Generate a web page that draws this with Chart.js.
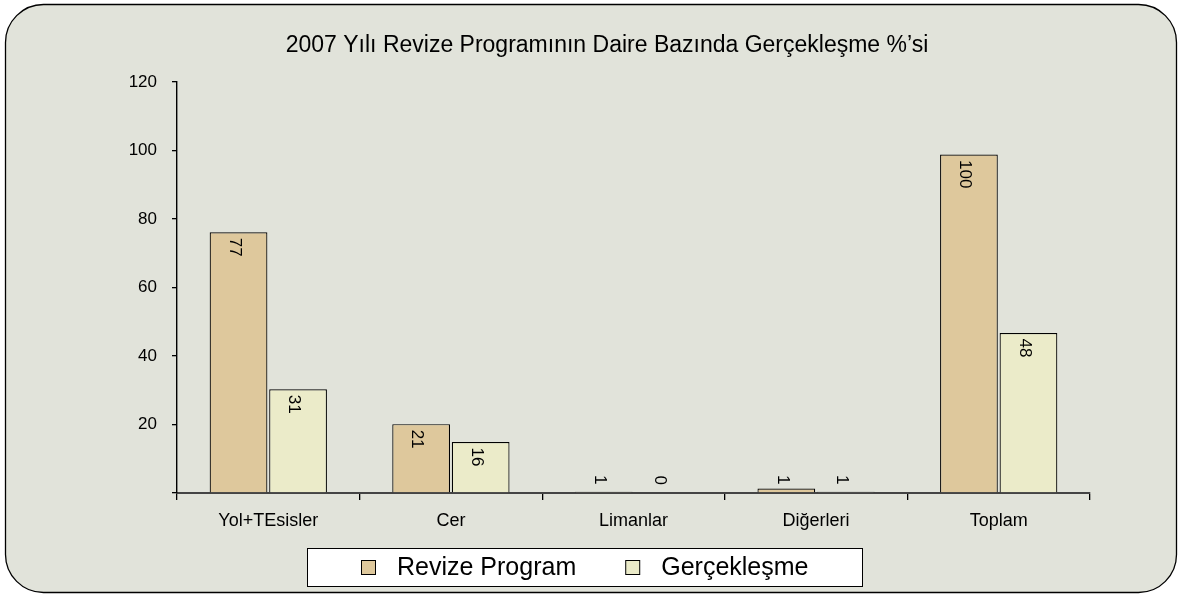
<!DOCTYPE html>
<html>
<head>
<meta charset="utf-8">
<script src="https://cdn.jsdelivr.net/npm/chart.js@4.4.1/dist/chart.umd.min.js"></script>
<style>
    html, body { margin: 0; padding: 0; background: #ffffff; }
    #chart { display: block; }
</style>
</head>
<body>
<canvas id="chart" width="1183" height="594"></canvas>
<script>
// chart data
const categories = ['Yol+TEsisler', 'Cer', 'Limanlar', 'Diğerleri', 'Toplam'];
const revizeValues = [76.1, 20.1, 0.4, 1.3, 98.8];
const gercekValues = [30.3, 14.9, 0, 0.4, 46.7];
// numbers printed on the bars
const revizeLabels = ['77', '21', '1', '1', '100'];
const gercekLabels = ['31', '16', '0', '1', '48'];
const yTicks = [0, 20, 40, 60, 80, 100, 120];

const FONT = '"Liberation Sans", Arial, Helvetica, sans-serif';
const chartTitle = '2007 Yılı Revize Programının Daire Bazında Gerçekleşme %’si';

// rounded panel behind everything + title
const panelPlugin = {
    id: 'panel',
    beforeDraw: function (chart) {
        const ctx = chart.ctx;
        ctx.save();
        ctx.fillStyle = '#ffffff';
        ctx.fillRect(0, 0, chart.width, chart.height);
        ctx.beginPath();
        ctx.roundRect(5.5, 4.5, 1171, 588, 38);
        ctx.fillStyle = '#e1e3da';
        ctx.fill();
        ctx.lineWidth = 1.3;
        ctx.strokeStyle = '#000000';
        ctx.stroke();

        ctx.fillStyle = '#000000';
        ctx.font = '23px ' + FONT;
        ctx.textAlign = 'center';
        ctx.textBaseline = 'middle';
        ctx.fillText(chartTitle, 607, 46);
        ctx.restore();
    }
};

// vertical value labels on bars
const barLabelPlugin = {
    id: 'barLabels',
    afterDatasetsDraw: function (chart) {
        const ctx = chart.ctx;
        const texts = [revizeLabels, gercekLabels];
        ctx.save();
        ctx.font = '17px ' + FONT;
        ctx.fillStyle = '#000000';
        ctx.textAlign = 'left';
        ctx.textBaseline = 'middle';
        chart.data.datasets.forEach(function (ds, di) {
            const meta = chart.getDatasetMeta(di);
            meta.data.forEach(function (bar, i) {
                const txt = texts[di][i];
                const w = ctx.measureText(txt).width;
                let start;
                if (bar.base - bar.y > w + 12) {
                    start = bar.y + 5.5;
                } else {
                    const end = Math.min(bar.y - 4, bar.base - 8);
                    start = end - w;
                }
                ctx.save();
                ctx.translate(bar.x - 4, start);
                ctx.rotate(Math.PI / 2);
                ctx.fillText(txt, 0, 0);
                ctx.restore();
            });
        });
        ctx.restore();
    }
};

// boxed legend under the axis
const legendBoxPlugin = {
    id: 'legendBox',
    afterDraw: function (chart) {
        const ctx = chart.ctx;
        const boxL = 307.5, boxT = 548.5, boxW = 555, boxH = 38;
        const sq = 14, gapText = 22, gapItem = 49;
        ctx.save();
        ctx.fillStyle = '#ffffff';
        ctx.fillRect(boxL, boxT, boxW, boxH);
        ctx.lineWidth = 1;
        ctx.strokeStyle = '#000000';
        ctx.strokeRect(boxL, boxT, boxW, boxH);

        ctx.font = '25px ' + FONT;
        const items = chart.data.datasets.map(function (ds) {
            return { label: ds.label, color: ds.backgroundColor, w: ctx.measureText(ds.label).width };
        });
        let total = 0;
        items.forEach(function (it, i) {
            total += sq + gapText + it.w + (i > 0 ? gapItem : 0);
        });
        let x = Math.round(boxL + boxW / 2 - total / 2);
        const cy = boxT + boxH / 2;
        ctx.textAlign = 'left';
        ctx.textBaseline = 'middle';
        items.forEach(function (it, i) {
            if (i > 0) x += gapItem;
            ctx.fillStyle = it.color;
            ctx.fillRect(x + 0.5, cy - sq / 2, sq, sq);
            ctx.strokeStyle = '#000000';
            ctx.strokeRect(x + 0.5, cy - sq / 2, sq, sq);
            x += sq + gapText;
            ctx.fillStyle = '#000000';
            ctx.fillText(it.label, x, cy + 1);
            x += it.w;
        });
        ctx.restore();
    }
};

const ctx = document.getElementById('chart').getContext('2d');
const myChart = new Chart(ctx, {
    type: 'bar',
    data: {
        labels: categories,
        datasets: [{
            label: 'Revize Program',
            data: revizeValues,
            backgroundColor: '#dec89c',
            borderColor: '#000000',
            borderWidth: 1.2
        }, {
            label: 'Gerçekleşme',
            data: gercekValues,
            backgroundColor: '#ebebc9',
            borderColor: '#000000',
            borderWidth: 1.2
        }]
    },
    options: {
        responsive: false,
        animation: false,
        devicePixelRatio: 1,
        categoryPercentage: 0.652,
        barPercentage: 0.97,
        layout: {
            padding: { top: 82, right: 93, bottom: 61, left: 0 }
        },
        plugins: {
            legend: { display: false },
            title: { display: false },
            tooltip: { enabled: false }
        },
        scales: {
            x: {
                afterFit: function (scale) { scale.height = 40; },
                grid: {
                    offset: true,
                    drawOnChartArea: false,
                    tickLength: 7,
                    lineWidth: 1.3,
                    color: '#000000'
                },
                border: { display: true, color: '#444444', width: 2 },
                ticks: {
                    padding: 10,
                    color: '#000000',
                    font: { family: FONT, size: 18 }
                }
            },
            y: {
                min: 0,
                max: 120,
                afterFit: function (scale) { scale.width = 177; },
                afterBuildTicks: function (scale) {
                    scale.ticks = yTicks.map(function (v) { return { value: v }; });
                },
                grid: {
                    drawOnChartArea: false,
                    tickLength: 5,
                    lineWidth: 1.3,
                    color: '#000000'
                },
                border: { display: true, color: '#000000', width: 1.4 },
                ticks: {
                    padding: 15,
                    color: '#000000',
                    font: { family: FONT, size: 17 },
                    callback: function (v) { return v === 0 ? '' : v; }
                }
            }
        }
    },
    plugins: [panelPlugin, barLabelPlugin, legendBoxPlugin]
});
</script>
</body>
</html>
